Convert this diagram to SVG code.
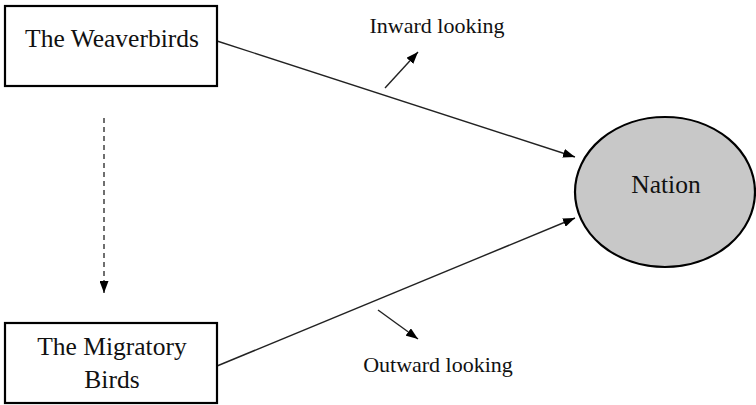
<svg xmlns="http://www.w3.org/2000/svg" width="756" height="405" viewBox="0 0 756 405">
  <defs>
    <marker id="arrow" viewBox="0 0 12 9" refX="12" refY="4.5" markerWidth="12" markerHeight="9" markerUnits="userSpaceOnUse" orient="auto">
      <path d="M0,0 L12,4.5 L0,9 Z" fill="#000"/>
    </marker>
  </defs>
  <style>
    .box { fill: #fff; stroke: #000; stroke-width: 2.2; }
    .oval { fill: #c8c8c8; stroke: #000; stroke-width: 2.2; }
    .node-text { font-family: "Liberation Serif", "Times New Roman", serif; font-size: 25.5px; fill: #111; text-anchor: middle; }
    .label { font-family: "Liberation Serif", "Times New Roman", serif; font-size: 22px; fill: #111; text-anchor: middle; }
    .link { stroke: #222; stroke-width: 1.4; fill: none; marker-end: url(#arrow); }
    .dashed { stroke: #333; stroke-width: 1.4; fill: none; stroke-dasharray: 5 4; marker-end: url(#arrow); }
  </style>

  <g id="connectors">
    <line class="link" x1="217" y1="41" x2="575" y2="157"/>
    <line class="link" x1="217" y1="366" x2="575" y2="218"/>
    <line class="dashed" x1="104" y1="118" x2="104" y2="293"/>
    <line class="link" x1="385" y1="88" x2="418" y2="52"/>
    <line class="link" x1="378" y1="310" x2="418" y2="339"/>
  </g>

  <g id="weaverbirds">
    <rect class="box" x="5" y="6" width="212" height="80"/>
    <text class="node-text" x="112" y="47">The Weaverbirds</text>
  </g>

  <g id="migratory-birds">
    <rect class="box" x="5" y="323" width="212" height="80"/>
    <text class="node-text" x="112" y="355">The Migratory</text>
    <text class="node-text" x="112" y="388">Birds</text>
  </g>

  <g id="nation">
    <ellipse class="oval" cx="665" cy="192" rx="90" ry="75"/>
    <text class="node-text" x="666" y="193">Nation</text>
  </g>

  <g id="labels">
    <text class="label" x="437" y="33">Inward looking</text>
    <text class="label" x="438" y="372">Outward looking</text>
  </g>
</svg>
